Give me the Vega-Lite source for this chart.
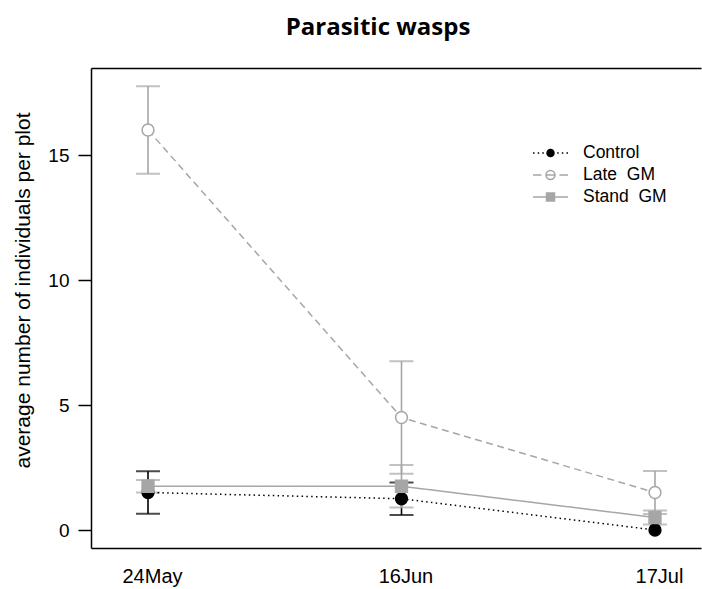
{
  "$schema": "https://vega.github.io/schema/vega-lite/v6.json",
  "autosize": "none",
  "padding": {"left": 91, "top": 68, "right": 1, "bottom": 41},
  "width": 610,
  "height": 480,
  "background": "white",
  "title": {"text": "Parasitic wasps", "font": "Open Sans", "fontSize": 24, "fontWeight": "bold", "color": "black", "anchor": "middle", "dx": -18, "offset": 9, "baseline": "alphabetic"},
  "data": {"values": [
    {"date": "24May", "group": "Control", "mean": 1.5, "lo": 0.65, "hi": 2.35},
    {"date": "16Jun", "group": "Control", "mean": 1.25, "lo": 0.6, "hi": 1.9},
    {"date": "17Jul", "group": "Control", "mean": 0, "lo": null, "hi": null},
    {"date": "24May", "group": "Late GM", "mean": 16, "lo": 14.25, "hi": 17.75},
    {"date": "16Jun", "group": "Late GM", "mean": 4.5, "lo": 2.25, "hi": 6.75},
    {"date": "17Jul", "group": "Late GM", "mean": 1.5, "lo": 0.64, "hi": 2.36},
    {"date": "24May", "group": "Stand GM", "mean": 1.75, "lo": 1.5, "hi": 2.0},
    {"date": "16Jun", "group": "Stand GM", "mean": 1.75, "lo": 0.9, "hi": 2.6},
    {"date": "17Jul", "group": "Stand GM", "mean": 0.5, "lo": 0.22, "hi": 0.78}
  ]},
  "resolve": {"axis": {"x": "independent"}},
  "layer": [
    {
      "mark": {"type": "rule", "strokeWidth": 1.6},
      "encoding": {
        "x": {"field": "date", "type": "ordinal", "sort": ["24May", "16Jun", "17Jul"], "scale": {"type": "point", "padding": 0.2032, "align": 0.5534},
              "axis": {"orient": "bottom", "title": null, "ticks": false, "tickSize": 0, "labelPadding": 18, "labelFontSize": 20, "labelOffset": 4, "labelAngle": 0, "domain": true}},
        "y": {"field": "lo", "type": "quantitative", "scale": {"domain": [-0.72, 18.48], "nice": false, "zero": false},
              "axis": {"title": "average number of individuals per plot", "titleFontSize": 21, "titleFontWeight": "normal", "titlePadding": 14, "titleY": 222, "values": [0, 5, 10, 15], "tickSize": 13, "tickWidth": 1.5, "labelPadding": 9, "labelFontSize": 19, "domain": true}},
        "y2": {"field": "hi"},
        "color": {"field": "group", "type": "nominal", "scale": {"domain": ["Control", "Late GM", "Stand GM"], "range": ["black", "#a6a6a6", "#a6a6a6"]},
          "legend": {
            "title": null, "orient": "none", "legendX": 448.5, "legendY": 74, "padding": 0,
            "symbolSize": 400, "symbolStrokeWidth": 1.5, "labelFontSize": 17.5, "labelFont": "Liberation Sans", "labelColor": "black",
            "labelOffset": 21.5, "rowPadding": 2,
            "labelExpr": "replace(datum.label, ' ', '\u00a0\u00a0')",
            "encode": {"symbols": {"update": {
              "shape": {"signal": "datum.value === 'Control' ? 'M-1.75,0L-1.6,0M-1.28,0L-1.13,0M-0.82,0L-0.67,0M0.67,0L0.82,0M1.13,0L1.28,0M1.6,0L1.75,0M0.35,0A0.35,0.35 0 1,1 -0.35,0A0.35,0.35 0 1,1 0.35,0Z' : datum.value === 'Late GM' ? 'M-1.75,0L-0.9,0M-0.45,0L0.45,0M0.9,0L1.75,0M0.45,0A0.45,0.45 0 1,1 -0.45,0A0.45,0.45 0 1,1 0.45,0ZM0.44,0A0.44,0.44 0 1,0 -0.44,0A0.44,0.44 0 1,0 0.44,0Z' : 'M-1.75,0L1.75,0M-0.4,-0.4L0.4,-0.4L0.4,0.4L-0.4,0.4Z'"},
              "strokeWidth": {"value": 1.5},
              "opacity": {"value": 1}
            }}}
          }}
      }
    },
    {
      "mark": {"type": "tick", "size": 24, "thickness": 2},
      "encoding": {
        "x": {"field": "date", "type": "ordinal", "sort": ["24May", "16Jun", "17Jul"],
              "axis": {"orient": "top", "title": null, "labels": false, "ticks": false, "domain": true}},
        "y": {"field": "lo", "type": "quantitative"},
        "color": {"field": "group", "type": "nominal"}
      }
    },
    {
      "mark": {"type": "tick", "size": 24, "thickness": 2},
      "encoding": {
        "x": {"field": "date", "type": "ordinal", "sort": ["24May", "16Jun", "17Jul"], "axis": null},
        "y": {"field": "hi", "type": "quantitative"},
        "color": {"field": "group", "type": "nominal"}
      }
    },
    {
      "mark": {"type": "line", "strokeWidth": 1.5},
      "encoding": {
        "x": {"field": "date", "type": "ordinal", "sort": ["24May", "16Jun", "17Jul"], "axis": null},
        "y": {"field": "mean", "type": "quantitative"},
        "color": {"field": "group", "type": "nominal"},
        "strokeDash": {"field": "group", "type": "nominal", "scale": {"domain": ["Stand GM", "Late GM", "Control"], "range": [[1, 0], [7, 4.5], [1.5, 3.3]]}, "legend": null}
      }
    },
    {
      "mark": {"type": "point", "filled": true, "size": 140, "strokeWidth": 1.5, "opacity": 1},
      "encoding": {
        "x": {"field": "date", "type": "ordinal", "sort": ["24May", "16Jun", "17Jul"], "axis": null},
        "y": {"field": "mean", "type": "quantitative"},
        "shape": {"field": "group", "type": "nominal", "scale": {"domain": ["Late GM", "Control", "Stand GM"], "range": ["circle", "circle", "square"]}, "legend": null},
        "fill": {"field": "group", "type": "nominal", "scale": {"domain": ["Stand GM", "Control", "Late GM"], "range": ["#a6a6a6", "black", "white"]}, "legend": null},
        "stroke": {"field": "group", "type": "nominal", "scale": {"domain": ["Late GM", "Stand GM", "Control"], "range": ["#a6a6a6", "#a6a6a6", "black"]}, "legend": null}
      }
    }
  ],
  "config": {
    "view": {"stroke": null},
    "axis": {"domainColor": "black", "domainWidth": 1.5, "tickColor": "black", "labelColor": "black", "titleColor": "black", "labelFont": "Liberation Sans", "titleFont": "Liberation Sans", "grid": false}
  }
}
